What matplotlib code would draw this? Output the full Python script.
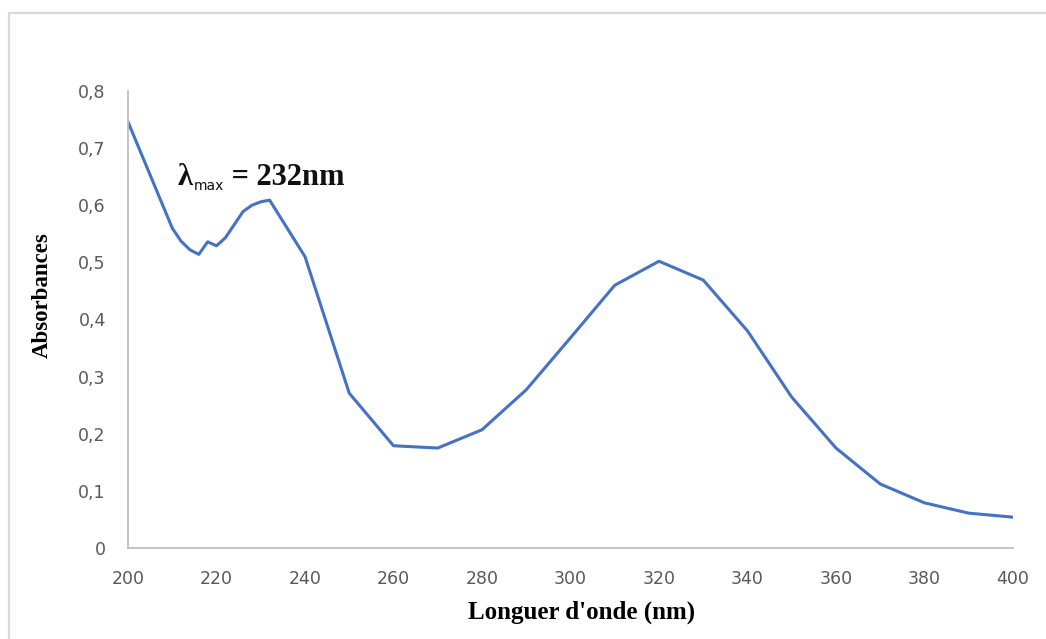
import matplotlib
matplotlib.use("Agg")
import matplotlib.pyplot as plt
from matplotlib.patches import Rectangle
from matplotlib.ticker import FuncFormatter

wavelength = [200, 210, 212, 214, 216, 218, 220, 222, 226, 228, 230, 232, 240,
              250, 260, 270, 280, 290, 300, 310, 320, 330, 340, 350, 360, 370,
              380, 390, 400]
absorbance = [0.746, 0.560, 0.537, 0.522, 0.514, 0.536, 0.529, 0.543, 0.589,
              0.600, 0.606, 0.609, 0.510, 0.271, 0.179, 0.175, 0.207, 0.277,
              0.368, 0.460, 0.502, 0.469, 0.380, 0.264, 0.175, 0.112, 0.079,
              0.061, 0.054]

x_ticks = [200, 220, 240, 260, 280, 300, 320, 340, 360, 380, 400]
y_ticks = [0, 0.1, 0.2, 0.3, 0.4, 0.5, 0.6, 0.7, 0.8]

W, H = 1046, 639
fig = plt.figure(figsize=(W / 100, H / 100), dpi=100)
fig.patch.set_facecolor("white")

# chart border
fig.add_artist(Rectangle((9 / W, -0.05), 1.2, (H - 13) / H + 0.05,
                         transform=fig.transFigure, fill=False,
                         edgecolor="#D9D9D9", linewidth=1.6))

ax = fig.add_axes([128 / W, (H - 548) / H, (1013 - 128) / W, (548 - 91) / H])
ax.plot(wavelength, absorbance, color="#4472C4", linewidth=2.2,
        solid_joinstyle="round")

ax.set_xlim(200, 400)
ax.set_ylim(0, 0.8)
ax.set_xticks(x_ticks)
ax.set_yticks(y_ticks)
ax.yaxis.set_major_formatter(FuncFormatter(
    lambda v, p: "0" if abs(v) < 1e-9 else f"{v:.1f}".replace(".", ",")))

for s in ["top", "right"]:
    ax.spines[s].set_visible(False)
for s in ["left", "bottom"]:
    ax.spines[s].set_color("#BFBFBF")
    ax.spines[s].set_linewidth(1.3)
ax.tick_params(length=0, labelsize=12.5, labelcolor="#595959")
ax.tick_params(axis="x", pad=15.5)
ax.tick_params(axis="y", pad=16)
for lab in ax.get_xticklabels() + ax.get_yticklabels():
    lab.set_family("DejaVu Sans")

ax.set_xlabel("Longuer d'onde (nm)", family="Liberation Serif",
              fontweight="bold", fontsize=18)
ax.xaxis.set_label_coords((581.5 - 128) / 885, (548 - 601) / 457)
ax.set_ylabel("Absorbances", family="Liberation Serif",
              fontweight="bold", fontsize=16.5)
ax.yaxis.set_label_coords((53 - 128) / 885, (548 - 295) / 457)

# annotation λmax = 232nm
t1 = ax.text(211.3, 0.636, "λ", family="Liberation Serif", fontweight="bold",
             fontsize=22, color="#111111", va="baseline", ha="left")
t2 = ax.annotate("max", xy=(1, 0), xycoords=t1, xytext=(0.5, -1),
                 textcoords="offset points", family="DejaVu Sans",
                 fontsize=10, color="#111111", va="bottom", ha="left")
t3 = ax.annotate(" = 232nm", xy=(1, 0), xycoords=(t2, t1), xytext=(0, 0),
                 textcoords="offset points", family="Liberation Serif",
                 fontweight="bold", fontsize=22, color="#111111",
                 va="bottom", ha="left")

fig.savefig("out.png", dpi=100, facecolor="white")
